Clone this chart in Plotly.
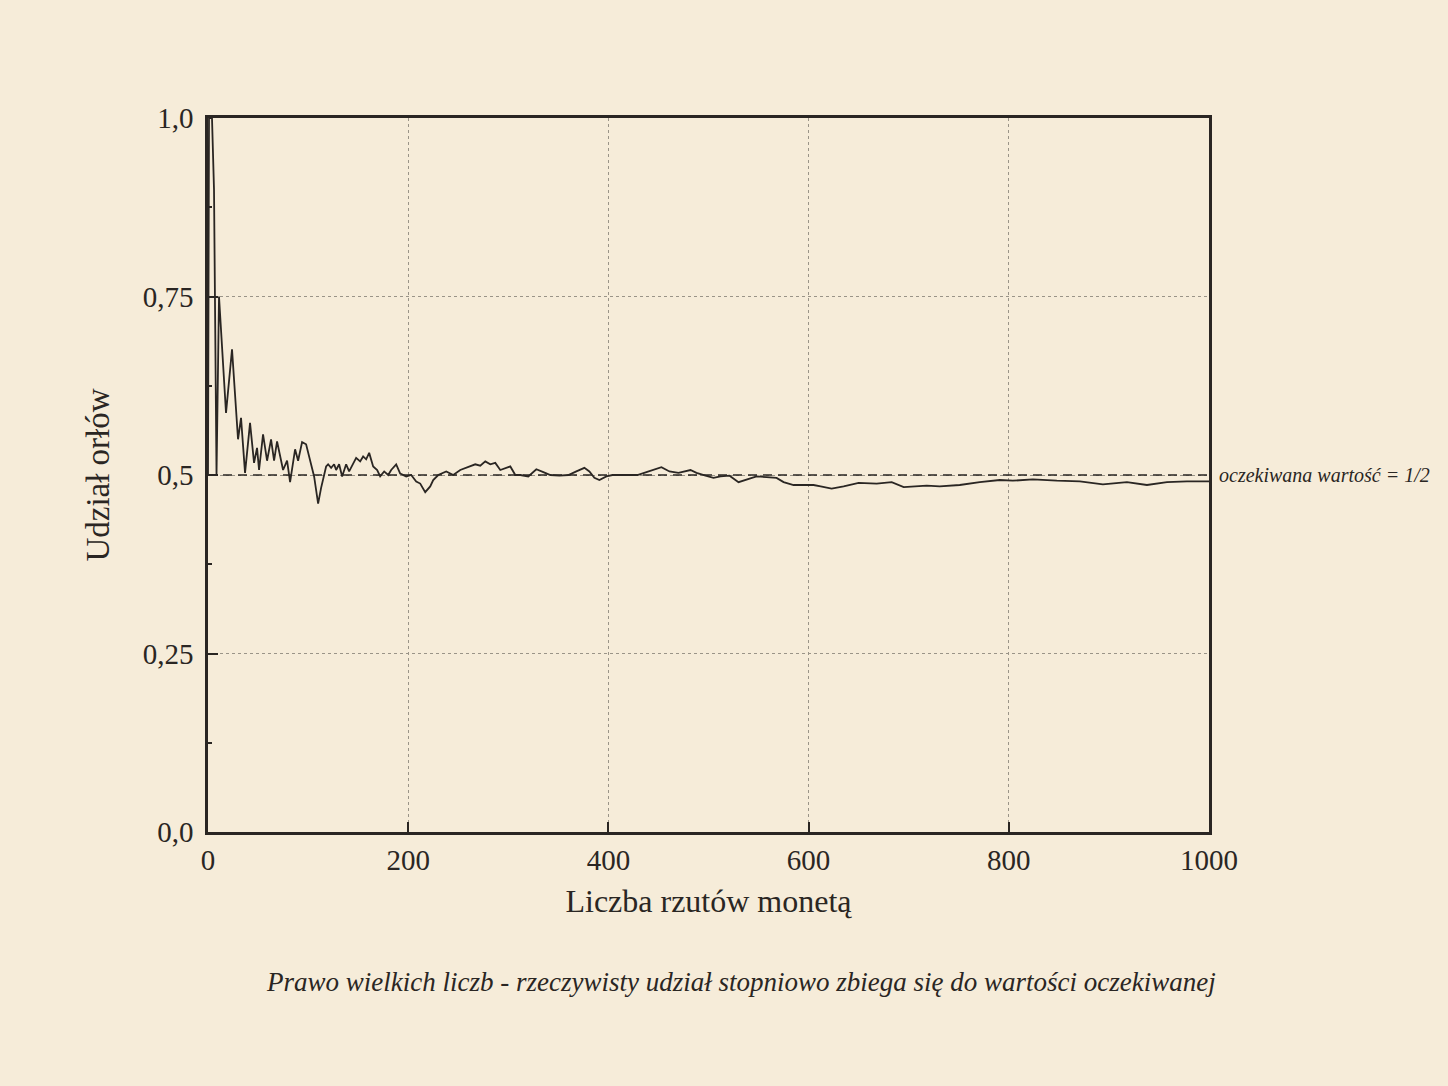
import plotly.graph_objects as go

# --- data ---
n_flips = [0, 1, 4, 6, 8.5, 11,
           18, 24, 30, 33, 37, 42, 46, 49, 51, 55, 59, 63, 66, 69, 75, 79, 82, 87, 90, 94, 98,
           102, 106, 110, 113, 118, 120, 123, 126, 128, 131, 134, 138, 141, 145, 148, 152, 155,
           158, 161, 165, 169, 172, 176, 180, 183, 188, 192, 198, 203, 208, 212, 217, 222, 225,
           230, 238, 245, 252, 258, 267, 272, 277, 282, 287, 292, 297, 302, 307, 312, 320, 328,
           335, 342, 351, 360, 368, 376, 381, 386, 391, 398, 404, 413, 421, 429, 438, 444, 453,
           461, 470, 482, 488, 497, 505, 512, 521, 530, 538, 548, 558, 568, 575, 585, 594, 605,
           612, 623, 635, 650, 668, 683, 695, 718, 731, 751, 771, 791, 804, 824, 848, 871, 894,
           918, 938, 958, 978, 1000]
share_heads = [0.5, 1.0, 1.0, 0.9, 0.5, 0.75,
               0.587, 0.676, 0.55, 0.58, 0.503, 0.573, 0.517, 0.538, 0.507, 0.557, 0.52, 0.55,
               0.52, 0.547, 0.507, 0.52, 0.49, 0.536, 0.52, 0.546, 0.543,
               0.52, 0.498, 0.46, 0.482, 0.512, 0.515, 0.51, 0.515, 0.507, 0.515, 0.498, 0.515,
               0.505, 0.515, 0.524, 0.519, 0.526,
               0.522, 0.531, 0.512, 0.507, 0.498, 0.505, 0.5, 0.507, 0.515, 0.502, 0.498, 0.5,
               0.491, 0.488, 0.476, 0.484, 0.493,
               0.5, 0.505, 0.5, 0.507, 0.51, 0.515, 0.513, 0.519, 0.515, 0.517, 0.507, 0.51,
               0.512, 0.5, 0.5, 0.498, 0.508,
               0.504, 0.5, 0.499, 0.5, 0.505, 0.51, 0.505, 0.496, 0.493, 0.498, 0.5, 0.5, 0.5,
               0.5, 0.504, 0.507, 0.511,
               0.505, 0.503, 0.507, 0.503, 0.499, 0.496, 0.498, 0.499, 0.49, 0.494, 0.498, 0.497,
               0.496, 0.49, 0.486, 0.486, 0.486,
               0.484, 0.481, 0.484, 0.489, 0.488, 0.49, 0.483, 0.485, 0.484, 0.486, 0.49, 0.493,
               0.492, 0.494, 0.492, 0.491, 0.487,
               0.49, 0.486, 0.49, 0.491, 0.491]
expected = 0.5
x_ticks = [0, 200, 400, 600, 800, 1000]
y_ticks = [0.0, 0.25, 0.5, 0.75, 1.0]
y_tick_labels = ["0,0", "0,25", "0,5", "0,75", "1,0"]

INK = "#2a2623"
PAPER = "#f6ecd9"
SERIF = "Liberation Serif, DejaVu Serif, serif"

fig = go.Figure()
fig.add_trace(go.Scatter(
    x=[0, 1000], y=[expected, expected], mode="lines",
    line=dict(color=INK, width=1.3, dash="9px,6px"), hoverinfo="skip", showlegend=False))
fig.add_trace(go.Scatter(
    x=n_flips, y=share_heads, mode="lines",
    line=dict(color=INK, width=1.8), showlegend=False))

fig.add_annotation(x=1, xref="paper", xshift=8, y=expected, yref="y",
                   text="<i>oczekiwana wartość = 1/2</i>", showarrow=False,
                   xanchor="left", yanchor="middle",
                   font=dict(family=SERIF, size=20, color=INK))
fig.add_annotation(x=0.532, xref="paper", y=-0.21, yref="paper",
                   text="<i>Prawo wielkich liczb - rzeczywisty udział stopniowo zbiega się do wartości oczekiwanej</i>",
                   showarrow=False, xanchor="center", yanchor="middle",
                   font=dict(family=SERIF, size=27, color=INK))

axis_common = dict(showline=True, mirror=True, linecolor=INK, linewidth=2.5,
                   showgrid=True, gridcolor="#9a9488", griddash="dot", gridwidth=1,
                   zeroline=False, ticks="inside", ticklen=10, tickcolor=INK, tickwidth=1.5,
                   tickfont=dict(family=SERIF, size=29, color=INK))

fig.update_xaxes(range=[0, 1000], tickvals=x_ticks, **axis_common,
                 title=dict(text="Liczba rzutów monetą", font=dict(family=SERIF, size=32, color=INK),
                            standoff=16))
fig.update_yaxes(range=[0, 1], tickvals=y_ticks, ticktext=y_tick_labels, **axis_common,
                 ticklabelstandoff=6,
                 title=dict(text="Udział orłów", font=dict(family=SERIF, size=33, color=INK),
                            standoff=24),
                 minor=dict(ticks="inside", ticklen=4, tickcolor=INK, dtick=0.125, showgrid=False))

fig.update_layout(width=1448, height=1086,
                  margin=dict(l=208, r=239, t=118, b=254),
                  paper_bgcolor=PAPER, plot_bgcolor=PAPER,
                  font=dict(family=SERIF, color=INK))

fig.write_html("out.html")
